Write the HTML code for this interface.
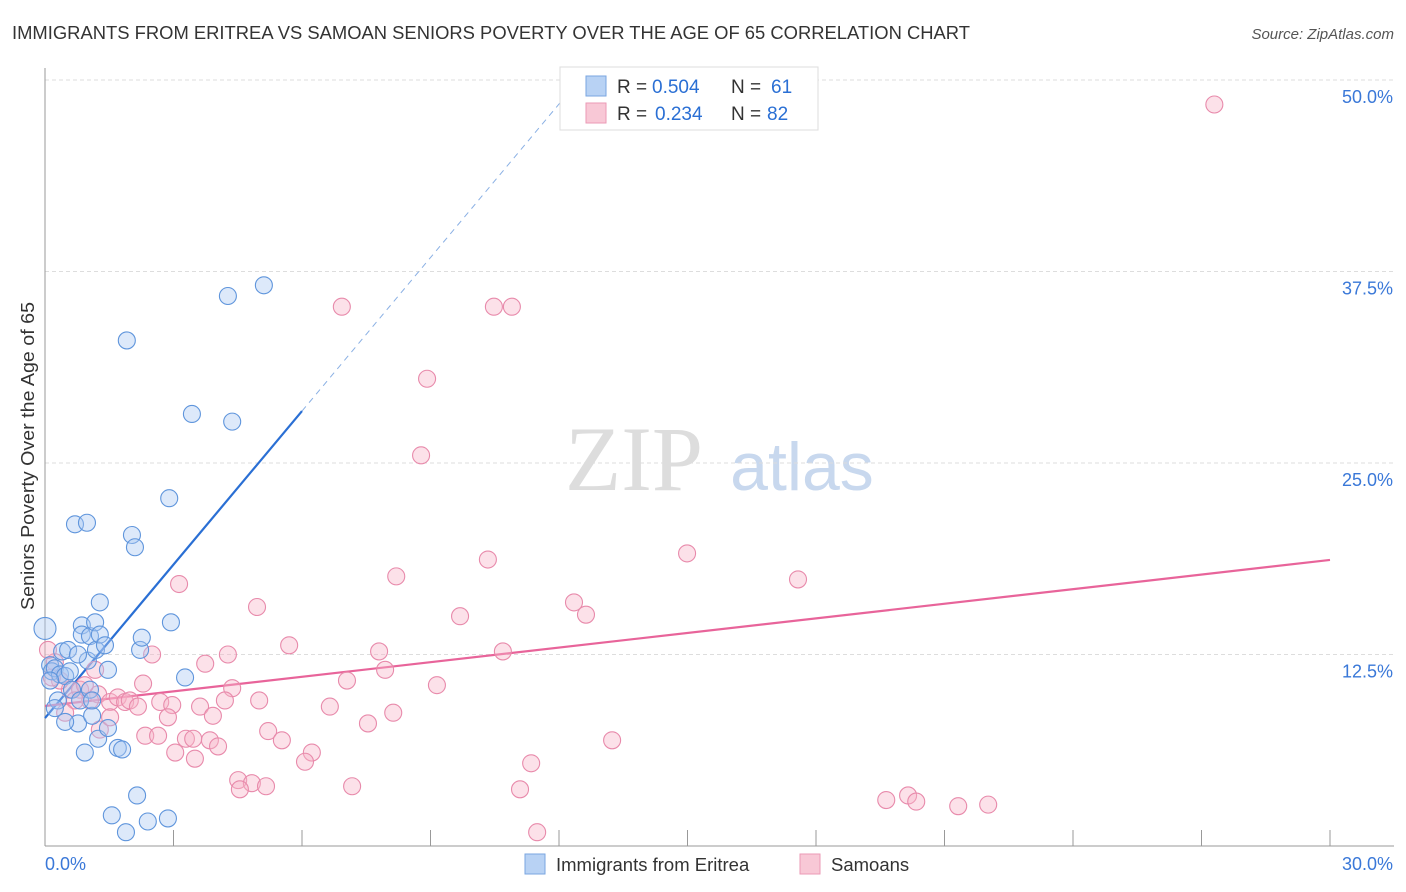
<!DOCTYPE html>
<html><head><meta charset="utf-8"><style>
body{margin:0;background:#fff;font-family:"Liberation Sans",sans-serif;}
svg{display:block}
</style></head><body>
<svg id="chart" width="1406" height="892">
<text x="12" y="39" font-size="18" fill="#333" textLength="958" lengthAdjust="spacingAndGlyphs">IMMIGRANTS FROM ERITREA VS SAMOAN SENIORS POVERTY OVER THE AGE OF 65 CORRELATION CHART</text>
<text x="1394" y="39" font-size="15" fill="#555" font-style="italic" text-anchor="end">Source: ZipAtlas.com</text>
<text x="34" y="456" font-size="18.5" fill="#333" text-anchor="middle" textLength="308" lengthAdjust="spacingAndGlyphs" transform="rotate(-90 34 456)">Seniors Poverty Over the Age of 65</text>
<g><text x="634" y="490" font-size="92" fill="#ddd" font-family="Liberation Serif,serif" text-anchor="middle">ZIP</text><text x="802" y="490" font-size="68" fill="#c8d8ee" text-anchor="middle">atlas</text></g>
<g id="grid"></g><g id="axes"></g><g id="lines"></g><g id="pts"></g>
<g>
<rect x="560" y="67" width="258" height="63" fill="#fff" stroke="#ddd"/>
<rect x="586" y="76" width="20" height="20" fill="#b8d2f4" stroke="#7aa6e0"/>
<rect x="586" y="103" width="20" height="20" fill="#f8c8d6" stroke="#eb9ab6"/>
<text x="617" y="93" font-size="19" fill="#333">R =</text><text x="652" y="93" font-size="19" fill="#2a6fd4">0.504</text>
<text x="731" y="93" font-size="19" fill="#333">N =</text><text x="771" y="93" font-size="19" fill="#2a6fd4">61</text>
<text x="617" y="120" font-size="19" fill="#333">R =</text><text x="655" y="120" font-size="19" fill="#2a6fd4">0.234</text>
<text x="731" y="120" font-size="19" fill="#333">N =</text><text x="767" y="120" font-size="19" fill="#2a6fd4">82</text>
</g>
<g>
<rect x="525" y="854" width="20" height="20" fill="#b8d2f4" stroke="#7aa6e0"/>
<text x="556" y="871" font-size="18.5" fill="#333">Immigrants from Eritrea</text>
<rect x="800" y="854" width="20" height="20" fill="#f8c8d6" stroke="#eb9ab6"/>
<text x="831" y="871" font-size="18.5" fill="#333">Samoans</text>
</g>
</svg>
<script>
const yTicks=[12.5,25,37.5,50];
const yTickLabels=["12.5%","25.0%","37.5%","50.0%"];
const xTickCount=10;
const blueX=[0,0.12,0.16,0.23,0.30,0.35,0.40,0.47,0.54,0.58,0.63,0.70,0.77,0.82,0.86,0.86,0.93,0.98,1.00,1.05,1.05,1.10,1.17,1.19,1.24,1.28,1.28,1.40,1.47,1.47,1.56,1.70,1.80,1.89,1.91,2.03,2.10,2.15,2.22,2.26,2.40,2.87,2.90,2.94,3.27,3.43,4.27,4.37,5.11,0.47,0.23,0.12,1.10,0.77];
const blueY=[14.2,11.8,11.4,11.6,9.5,11.2,12.7,11.1,12.8,11.4,10.2,21.0,8.0,9.5,14.4,13.8,6.1,21.1,12.1,13.7,10.2,8.5,14.6,12.8,7.0,15.9,13.8,13.1,7.7,11.5,2.0,6.4,6.3,0.9,33.0,20.3,19.5,3.3,12.8,13.6,1.6,1.8,22.7,14.6,11.0,28.2,35.9,27.7,36.6,8.1,9.0,10.8,9.5,12.5];
const pinkX=[27.3,6.93,10.48,10.90,8.92,8.78,14.99,10.34,17.58,8.20,3.13,4.95,12.35,12.63,9.69,5.70,2.50,4.27,7.80,10.69,3.74,7.94,7.05,9.15,4.37,2.29,1.24,0.58,0.35,0.16,0.82,1.05,1.52,1.70,1.87,1.98,2.17,2.69,2.97,3.62,3.92,4.20,5.00,2.87,6.65,8.13,7.54,5.21,5.53,2.34,2.64,3.29,3.46,3.85,4.04,6.23,6.07,3.04,3.50,13.24,11.35,4.51,4.83,5.16,4.55,7.17,11.09,11.49,19.64,20.15,20.34,21.32,22.02,1.28,1.52,0.70,0.93,1.17,0.23,0.47,0.07];
const pinkY=[48.4,35.2,35.2,35.2,30.5,25.5,19.1,18.7,17.4,17.6,17.1,15.6,15.9,15.1,15.0,13.1,12.5,12.5,12.7,12.7,11.9,11.5,10.8,10.5,10.3,10.6,9.9,10.2,10.8,11.0,10.2,9.5,9.4,9.7,9.4,9.5,9.1,9.4,9.2,9.1,8.5,9.5,9.5,8.4,9.1,8.7,8.0,7.5,6.9,7.2,7.2,7.0,7.0,6.9,6.5,6.1,5.5,6.1,5.7,6.9,5.4,4.3,4.1,3.9,3.7,3.9,3.7,0.9,3.0,3.3,2.9,2.6,2.7,7.6,8.4,9.5,10.5,11.5,12.0,8.7,12.8];
const blueFit=[8.35,3.34]; const blueSolidEnd=6.0;
const pinkFit=[9.14,0.3177];
const NS="http://www.w3.org/2000/svg";
const xS=v=>45+v/30*1285, yS=v=>846-v/50*766;
function mk(p,t,a){const e=document.createElementNS(NS,t);for(const k in a)e.setAttribute(k,a[k]);document.getElementById(p).appendChild(e);return e;}
yTicks.forEach((t,i)=>{
 const l=mk('grid','line',{x1:45,x2:1394,y1:yS(t),y2:yS(t),stroke:'#ddd','stroke-dasharray':'4,3'});
 
 
 const tx=mk('grid','text',{x:1393,y:yS(t)+23,'font-size':18,fill:'#3a78d8','text-anchor':'end'});
 tx.textContent=yTickLabels[i];
 
 
});
const ax=mk('axes','line',{x1:45,x2:45,y1:68,y2:846,stroke:'#999'});


const bx=mk('axes','line',{x1:45,x2:1394,y1:846,y2:846,stroke:'#999'});


for(let i=0;i<=xTickCount;i++){const t=mk('axes','line',{x1:xS(i*3),x2:xS(i*3),y1:830,y2:846,stroke:'#999'});
 
 }
const l0=mk('axes','text',{x:45,y:870,'font-size':18,fill:'#3a78d8'});l0.textContent='0.0%';


const l1=mk('axes','text',{x:1393,y:870,'font-size':18,fill:'#3a78d8','text-anchor':'end'});l1.textContent='30.0%';


function dot(x,y,f,s,n){const c=mk('pts','circle',{cx:xS(x),cy:yS(y),r:x===0?11:8.5,fill:f,'fill-opacity':0.4,stroke:s,'stroke-width':1.1});
 
 }
pinkX.forEach((x,i)=>dot(x,pinkY[i],'#f7b3c8','#e88aab','samoan-point'));
blueX.forEach((x,i)=>dot(x,blueY[i],'#a9c8f2','#5f95dc','eritrea-point'));
const xe=(50-blueFit[0])/blueFit[1];
const b1=mk('lines','line',{x1:xS(0),y1:yS(blueFit[0]),x2:xS(blueSolidEnd),y2:yS(blueFit[0]+blueFit[1]*blueSolidEnd),stroke:'#2a6fd4','stroke-width':2.2});


const b2=mk('lines','line',{x1:xS(blueSolidEnd),y1:yS(blueFit[0]+blueFit[1]*blueSolidEnd),x2:xS(xe),y2:yS(50),stroke:'#8ab0e4','stroke-width':1,'stroke-dasharray':'6,5'});


const p1=mk('lines','line',{x1:xS(0),y1:yS(pinkFit[0]),x2:xS(30),y2:yS(pinkFit[0]+pinkFit[1]*30),stroke:'#e8649a','stroke-width':2.2});


</script>
</body></html>
